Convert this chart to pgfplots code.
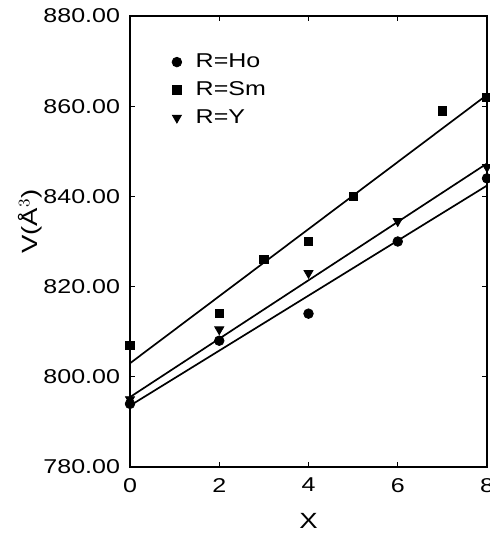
\documentclass[border=0pt]{standalone}
\usepackage{fontspec}
\setmainfont{Liberation Sans}[FakeStretch=1.25]
\usepackage{pgfplots}
\pgfplotsset{compat=1.18}
\begin{document}
\begin{tikzpicture}
\path[use as bounding box] (-65pt,-33pt) rectangle (179.5pt,233.5pt);
\begin{axis}[
  at={(0,0)}, anchor=south west,
  scale only axis, width=178.5pt, height=225.5pt,
  xmin=0, xmax=8, ymin=780, ymax=880,
  xtick={0,2,4,6,8}, ytick={780,800,820,840,860,880},
  yticklabels={780.00,800.00,820.00,840.00,860.00,880.00},
  xticklabels={0,2,4,6,8},
  tick align=inside, major tick length=2.5pt,
  tick style={black, line width=0.6pt},
  axis line style={line width=0.9pt},
  tick label style={font=\fontsize{10pt}{12pt}\selectfont},
  yticklabel style={xshift=-1.5pt},
  xticklabel style={yshift=-2pt},
  xlabel={X}, ylabel={V(Å$^{3}$)},
  label style={font=\fontsize{11pt}{13pt}\selectfont},
  xlabel style={at={(axis description cs:0.5,0)}, anchor=center, yshift=-27pt},
  ylabel style={at={(axis description cs:0,0.5)}, anchor=center, rotate=0, yshift=50pt, xshift=10pt},
  clip=false,
  legend style={draw=none, fill=none, at={(0.1,0.935)}, anchor=north west,
    font=\fontsize{10pt}{12pt}\selectfont, row sep=1.5pt,
    legend cell align=left},
]
\addplot[only marks, mark=*, mark size=2.4pt, black] coordinates {
  (0,794) (2,808) (4,814) (6,830) (8,844)};
\addlegendentry{\hspace{5pt}R=Ho}
\addplot[only marks, mark=square*, mark size=2.1pt, black] coordinates {
  (0,807) (2,814) (3,826) (4,830) (5,840) (7,859) (8,862)};
\addlegendentry{\hspace{5pt}R=Sm}
\addplot[only marks, mark=triangle*, mark options={rotate=180}, mark size=2.6pt, black] coordinates {
  (0,795) (2,810.5) (4,823) (6,834.5) (8,846.5)};
\addlegendentry{\hspace{5pt}R=Y}
\addplot[black, line width=0.85pt, no marks, forget plot] coordinates {(0,793.6) (8,842.4)};
\addplot[black, line width=0.85pt, no marks, forget plot] coordinates {(0,795.5) (8,847.3)};
\addplot[black, line width=0.85pt, no marks, forget plot] coordinates {(0,803) (8,862.5)};
\end{axis}
\end{tikzpicture}
\end{document}
